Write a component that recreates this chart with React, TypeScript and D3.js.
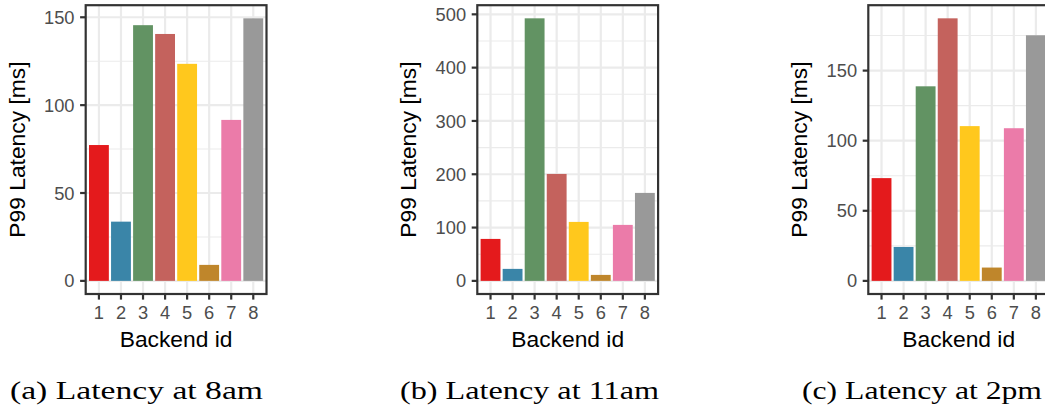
import React from "react";
import * as d3 from "d3";

const backendIds = ["1", "2", "3", "4", "5", "6", "7", "8"];
const fillColors = ["#E41A1C", "#3A85A8", "#629363", "#C4625D", "#FFC81D", "#BF862B", "#EB7BA9", "#999999"];

const latency8am = [77.3, 33.7, 145.5, 140.5, 123.5, 9.1, 91.6, 149.4];
const latency11am = [78.7, 22.5, 492.5, 200.6, 110.6, 11.2, 105.0, 165.0];
const latency2pm = [73.3, 24.2, 138.8, 187.3, 110.4, 9.5, 108.9, 175.2];

const ticks8am = [0, 50, 100, 150];
const ticks11am = [0, 100, 200, 300, 400, 500];
const ticks2pm = [0, 50, 100, 150];

const captions = ["(a) Latency at 8am", "(b) Latency at 11am", "(c) Latency at 2pm"];
const yTitle = "P99 Latency [ms]";
const xTitle = "Backend id";

const W = 1045;
const H = 410;
const SANS = "'Liberation Sans', Arial, Helvetica, sans-serif";
const SERIF = "'Liberation Serif', 'Times New Roman', serif";

type PanelProps = { ox: number; values: number[]; ticks: number[] };

function Panel({ ox, values, ticks }: PanelProps) {
  const left = ox + 85.7;
  const width = 180.8;
  const top = 5.2;
  const bottom = 294;
  const maxV = d3.max(values) as number;
  const y = d3
    .scaleLinear()
    .domain([-0.05 * maxV, maxV * 1.05])
    .range([bottom, top]);
  const x = d3
    .scaleBand<string>()
    .domain(backendIds)
    .range([left, left + width])
    .paddingInner(0.1)
    .paddingOuter(0.15);
  const step = ticks[1] - ticks[0];
  const [d0, d1] = y.domain();
  const minor: number[] = [];
  for (let t = ticks[0] - step / 2; t <= d1; t += step) {
    if (t >= d0 && t <= d1) minor.push(t);
  }
  const cx = (id: string) => (x(id) as number) + x.bandwidth() / 2;
  const tickLen = 5.6;
  return (
    <g>
      <rect x={left} y={top} width={width} height={bottom - top} fill="#FFFFFF" />
      {minor.map((t) => (
        <line key={"mn" + t} x1={left} x2={left + width} y1={y(t)} y2={y(t)} stroke="#EBEBEB" strokeWidth={1.1} />
      ))}
      {ticks.map((t) => (
        <line key={"mj" + t} x1={left} x2={left + width} y1={y(t)} y2={y(t)} stroke="#EBEBEB" strokeWidth={2.2} />
      ))}
      {backendIds.map((id) => (
        <line key={"vx" + id} x1={cx(id)} x2={cx(id)} y1={top} y2={bottom} stroke="#EBEBEB" strokeWidth={2.2} />
      ))}
      {values.map((v, i) => (
        <rect
          key={"bar" + i}
          x={x(backendIds[i]) as number}
          width={x.bandwidth()}
          y={y(Math.max(0, v))}
          height={Math.abs(y(v) - y(0))}
          fill={fillColors[i]}
        />
      ))}
      <rect x={left} y={top} width={width} height={bottom - top} fill="none" stroke="#333333" strokeWidth={2.2} />
      {ticks.map((t) => (
        <g key={"yt" + t}>
          <line x1={left - tickLen} x2={left} y1={y(t)} y2={y(t)} stroke="#333333" strokeWidth={2.2} />
          <text
            x={left - 11.2}
            y={y(t)}
            dy="0.36em"
            textAnchor="end"
            fontFamily={SANS}
            fontSize={18.3}
            fill="#4D4D4D"
          >
            {t}
          </text>
        </g>
      ))}
      {backendIds.map((id) => (
        <g key={"xt" + id}>
          <line x1={cx(id)} x2={cx(id)} y1={bottom} y2={bottom + tickLen} stroke="#333333" strokeWidth={2.2} />
          <text x={cx(id)} y={bottom + 25.2} textAnchor="middle" fontFamily={SANS} fontSize={18.3} fill="#4D4D4D">
            {id}
          </text>
        </g>
      ))}
      <text
        x={left + width / 2}
        y={bottom + 52.6}
        textAnchor="middle"
        fontFamily={SANS}
        fontSize={22.8}
        fill="#000000"
      >
        {xTitle}
      </text>
      <text
        transform={`translate(${left - 61},${(top + bottom) / 2}) rotate(-90)`}
        textAnchor="middle"
        fontFamily={SANS}
        fontSize={22.8}
        fill="#000000"
      >
        {yTitle}
      </text>
    </g>
  );
}

const captionX = [10, 400, 802];
const captionLen = [253, 259, 240];

export default function App() {
  const panels = [
    { ox: 0, values: latency8am, ticks: ticks8am },
    { ox: 391.6, values: latency11am, ticks: ticks11am },
    { ox: 782.6, values: latency2pm, ticks: ticks2pm },
  ];
  return (
    <svg
      width={W}
      height={H}
      viewBox={`0 0 ${W} ${H}`}
      style={{ position: "absolute", left: 0, top: 0, background: "#FFFFFF" }}
    >
      <rect x={0} y={0} width={W} height={H} fill="#FFFFFF" />
      {panels.map((p, i) => (
        <Panel key={i} ox={p.ox} values={p.values} ticks={p.ticks} />
      ))}
      {captions.map((c, i) => (
        <text
          key={"cap" + i}
          x={captionX[i]}
          y={399}
          fontFamily={SERIF}
          fontSize={25}
          fill="#000000"
          textLength={captionLen[i]}
          lengthAdjust="spacingAndGlyphs"
        >
          {c}
        </text>
      ))}
    </svg>
  );
}
